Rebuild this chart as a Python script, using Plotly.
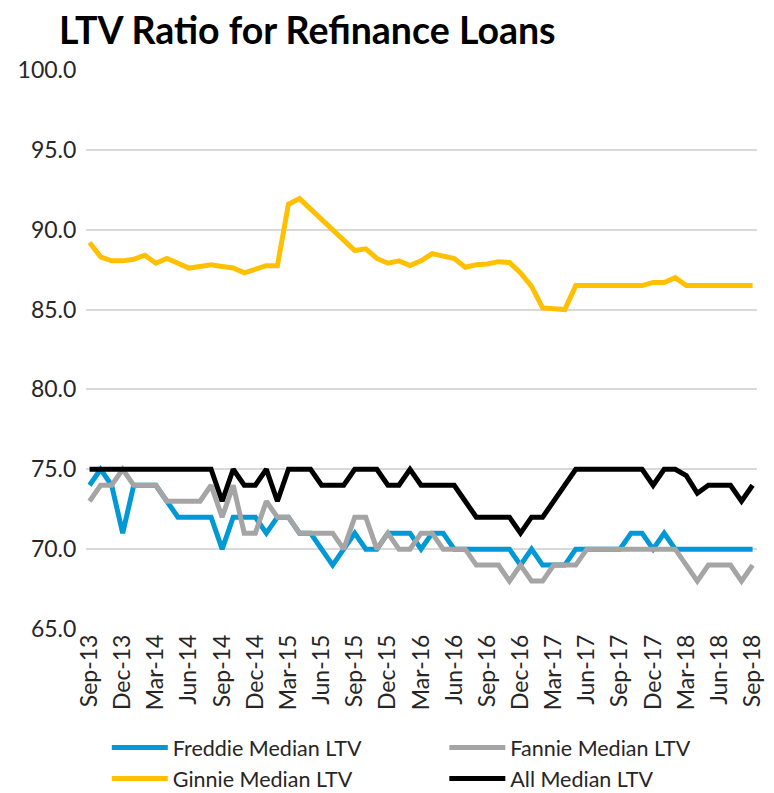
import pandas as pd
import plotly.graph_objects as go

# monthly categories Sep-13 .. Sep-18
months = [d.strftime('%b-%y') for d in pd.date_range('2013-09-01', '2018-09-01', freq='MS')]
tick_labels = ['Sep-13', 'Dec-13', 'Mar-14', 'Jun-14', 'Sep-14', 'Dec-14', 'Mar-15',
	'Jun-15', 'Sep-15', 'Dec-15', 'Mar-16', 'Jun-16', 'Sep-16', 'Dec-16', 'Mar-17',
	'Jun-17', 'Sep-17', 'Dec-17', 'Mar-18', 'Jun-18', 'Sep-18']

freddie = [74, 75, 74, 71, 74, 74, 74, 73, 72, 72, 72, 72, 70, 72, 72, 72, 71, 72, 72, 71,
	71, 70, 69, 70, 71, 70, 70, 71, 71, 71, 70, 71, 71, 70, 70, 70, 70, 70, 70, 69,
	70, 69, 69, 69, 70, 70, 70, 70, 70, 71, 71, 70, 71, 70, 70, 70, 70, 70, 70, 70, 70]
fannie = [73, 74, 74, 75, 74, 74, 74, 73, 73, 73, 73, 74, 72, 74, 71, 71, 73, 72, 72, 71,
	71, 71, 71, 70, 72, 72, 70, 71, 70, 70, 71, 71, 70, 70, 70, 69, 69, 69, 68, 69,
	68, 68, 69, 69, 69, 70, 70, 70, 70, 70, 70, 70, 70, 70, 69, 68, 69, 69, 69, 68, 69]
ginnie = [89.2, 88.3, 88.05, 88.05, 88.15, 88.4, 87.9, 88.2, 87.9, 87.6, 87.7, 87.8, 87.7,
	87.6, 87.3, 87.5, 87.75, 87.75, 91.6, 91.95, 91.3, 90.65, 90.0, 89.35, 88.7, 88.8,
	88.2, 87.9, 88.05, 87.75, 88.05, 88.5, 88.35, 88.2, 87.65, 87.8, 87.85, 88.0, 87.95,
	87.3, 86.45, 85.1, 85.05, 85.0, 86.5, 86.5, 86.5, 86.5, 86.5, 86.5, 86.5, 86.7, 86.7,
	87.0, 86.5, 86.5, 86.5, 86.5, 86.5, 86.5, 86.5]
all_ltv = [75, 75, 75, 75, 75, 75, 75, 75, 75, 75, 75, 75, 73, 75, 74, 74, 75, 73, 75, 75,
	75, 74, 74, 74, 75, 75, 75, 74, 74, 75, 74, 74, 74, 74, 73, 72, 72, 72, 72, 71,
	72, 72, 73, 74, 75, 75, 75, 75, 75, 75, 75, 74, 75, 75, 74.6, 73.5, 74, 74, 74, 73, 74]

font = 'Lato, Noto Sans, sans-serif'

fig = go.Figure()
fig.add_trace(go.Scatter(x=months, y=freddie, name='Freddie Median LTV', mode='lines',
	line=dict(color='#0099d6', width=5), legend='legend'))
fig.add_trace(go.Scatter(x=months, y=fannie, name='Fannie Median LTV', mode='lines',
	line=dict(color='#a5a5a5', width=5), legend='legend2'))
fig.add_trace(go.Scatter(x=months, y=ginnie, name='Ginnie Median LTV', mode='lines',
	line=dict(color='#ffc000', width=5), legend='legend'))
fig.add_trace(go.Scatter(x=months, y=all_ltv, name='All Median LTV', mode='lines',
	line=dict(color='#000000', width=5), legend='legend2'))

# the page body adds an 8px offset, so margins are shifted by 8
leg = dict(orientation='v', xanchor='left', yref='container', y=1-719/793, yanchor='top',
	itemwidth=56, tracegroupgap=0, bgcolor='rgba(0,0,0,0)',
	font=dict(family=font, size=21.5, color='#262626'))

fig.update_layout(
	width=774, height=793,
	margin=dict(l=78, r=25, t=62, b=172, autoexpand=False),
	paper_bgcolor='white', plot_bgcolor='white',
	font=dict(family=font, size=23, color='#262626'),
	title=dict(text='<b>LTV Ratio for Refinance Loans</b>', x=51/774, xanchor='left',
		y=1-23/793, yanchor='middle', font=dict(family=font, size=37.5, color='#000000')),
	showlegend=True,
	legend=dict(leg, x=0.031),
	legend2=dict(leg, x=0.534),
)
fig.update_xaxes(type='category', range=[-0.32, 60.4], tickvals=tick_labels, ticktext=tick_labels,
	tickangle=-90, showgrid=False, showline=False, ticks='', zeroline=False)
fig.update_yaxes(range=[65, 100], dtick=5, tickformat='.1f', showgrid=True,
	gridcolor='#d9d9d9', gridwidth=1.5, zeroline=False, showline=False,
	ticks='outside', ticklen=4, tickcolor='rgba(0,0,0,0)')

fig.write_html('out.html')
